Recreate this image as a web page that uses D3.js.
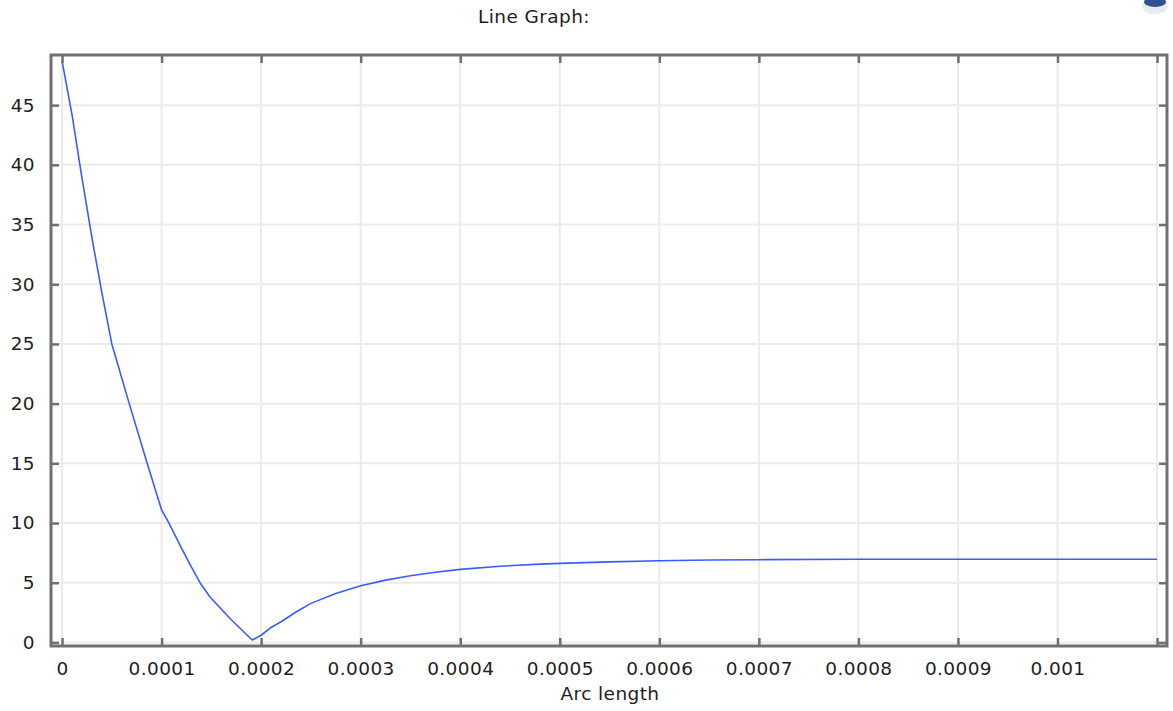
<!DOCTYPE html>
<html>
<head>
<meta charset="utf-8">
<script src="https://cdn.jsdelivr.net/npm/d3@7"></script>
<style>
  body { margin: 0; background: #fff; }
  svg { display: block; font-family: "DejaVu Sans", sans-serif; }
  .tick-label { font-family: "DejaVu Sans", sans-serif; font-size: 18.5px; fill: #1e1e1e; letter-spacing: 0.4px; }
</style>
</head>
<body>
<svg id="chart" width="1173" height="711"></svg>
<script>
// arc length (m) and value
var arcLength = [0, 0.00001, 0.00002, 0.00003, 0.00004, 0.00005, 0.0000675, 0.0000855,
  0.0001, 0.0001074, 0.00012, 0.00013, 0.0001386, 0.0001486, 0.00017, 0.000191, 0.0002,
  0.00021, 0.00022, 0.000235, 0.00025, 0.000275, 0.0003, 0.000325, 0.00035, 0.000375,
  0.0004, 0.00044, 0.00048, 0.0005, 0.00055, 0.0006, 0.00065, 0.0007,
  0.0008, 0.0009, 0.001, 0.0011];
var values = [48.7, 44.2, 38.9, 33.9, 29.3, 25.0, 20.0, 15.0,
  11.1, 10.0, 7.9, 6.3, 5.0, 3.8, 1.9, 0.2, 0.6,
  1.25, 1.73, 2.55, 3.27, 4.1, 4.75, 5.22, 5.58, 5.88,
  6.12, 6.38, 6.56, 6.62, 6.75, 6.84, 6.9, 6.93,
  6.96, 6.97, 6.97, 6.97];
var xTicks = [0, 0.0001, 0.0002, 0.0003, 0.0004, 0.0005, 0.0006, 0.0007, 0.0008, 0.0009, 0.001, 0.0011];
var xTickLabels = ["0", "0.0001", "0.0002", "0.0003", "0.0004", "0.0005", "0.0006", "0.0007", "0.0008", "0.0009", "0.001", ""];
var yTicks = [0, 5, 10, 15, 20, 25, 30, 35, 40, 45];
var titleText = "Line Graph:";
var xTitle = "Arc length";

var svg = d3.select("#chart");
var plotLeft = 51, plotRight = 1167, plotTop = 55, plotBottom = 646;

var x = d3.scaleLinear().domain([-0.0000111, 0.00111]).range([plotLeft, plotRight]);
var y = d3.scaleLinear().domain([-0.3, 49.2]).range([plotBottom, plotTop]);

// grid
var grid = svg.append("g");
grid.selectAll(".gx").data(xTicks).enter().append("line")
  .attr("x1", function (d) { return x(d); }).attr("x2", function (d) { return x(d); })
  .attr("y1", plotTop).attr("y2", plotBottom)
  .attr("stroke", "#ebebeb").attr("stroke-width", 2);
grid.selectAll(".gy").data(yTicks).enter().append("line")
  .attr("x1", plotLeft).attr("x2", plotRight)
  .attr("y1", function (d) { return y(d); }).attr("y2", function (d) { return y(d); })
  .attr("stroke", "#ebebeb").attr("stroke-width", 2);

// curve
svg.append("clipPath").attr("id", "plotclip").append("rect")
  .attr("x", plotLeft).attr("y", plotTop).attr("width", plotRight - plotLeft).attr("height", plotBottom - plotTop);
var pts = arcLength.map(function (d, i) { return [d, values[i]]; });
var line = d3.line().x(function (d) { return x(d[0]); }).y(function (d) { return y(d[1]); });
svg.append("path").datum(pts)
  .attr("clip-path", "url(#plotclip)")
  .attr("d", line)
  .attr("fill", "none")
  .attr("stroke", "#3a5cff")
  .attr("stroke-width", 1.6)
  .attr("stroke-linejoin", "round");

// axes with inward ticks
var frame = "#707070";
var xAxisB = d3.axisBottom(x).tickValues(xTicks).tickSize(-8).tickFormat(function (d, i) { return xTickLabels[i]; }).tickPadding(16);
var xAxisT = d3.axisTop(x).tickValues(xTicks).tickSize(-8).tickFormat("");
var yAxisL = d3.axisLeft(y).tickValues(yTicks).tickSize(-8).tickFormat(d3.format("d")).tickPadding(16);
var yAxisR = d3.axisRight(y).tickValues(yTicks).tickSize(-8).tickFormat("");

function styleAxis(g) {
  g.attr("font-family", null).attr("font-size", null);
  g.select(".domain").remove();
  g.selectAll(".tick line").attr("stroke", frame).attr("stroke-width", 2.5);
  g.selectAll(".tick text").attr("class", "tick-label");
}
svg.append("g").attr("transform", "translate(0," + plotBottom + ")").call(xAxisB).call(styleAxis);
svg.append("g").attr("transform", "translate(0," + plotTop + ")").call(xAxisT).call(styleAxis);
svg.append("g").attr("transform", "translate(" + plotLeft + ",0)").call(yAxisL).call(styleAxis);
svg.append("g").attr("transform", "translate(" + plotRight + ",0)").call(yAxisR).call(styleAxis);

svg.append("rect")
  .attr("x", plotLeft).attr("y", plotTop).attr("width", plotRight - plotLeft).attr("height", plotBottom - plotTop)
  .attr("fill", "none").attr("stroke", frame).attr("stroke-width", 3);

// titles
svg.append("text").attr("x", 534).attr("y", 23).attr("text-anchor", "middle")
  .attr("class", "tick-label").text(titleText);
svg.append("text").attr("x", 610).attr("y", 700).attr("text-anchor", "middle")
  .attr("class", "tick-label").text(xTitle);

// small toolbar glyph in the corner
svg.append("ellipse").attr("cx", 1155).attr("cy", 6).attr("rx", 13).attr("ry", 8)
  .attr("fill", "#e8eaee");
svg.append("ellipse").attr("cx", 1155).attr("cy", 2).attr("rx", 11).attr("ry", 5)
  .attr("fill", "#2f4f8f");
</script>
</body>
</html>
